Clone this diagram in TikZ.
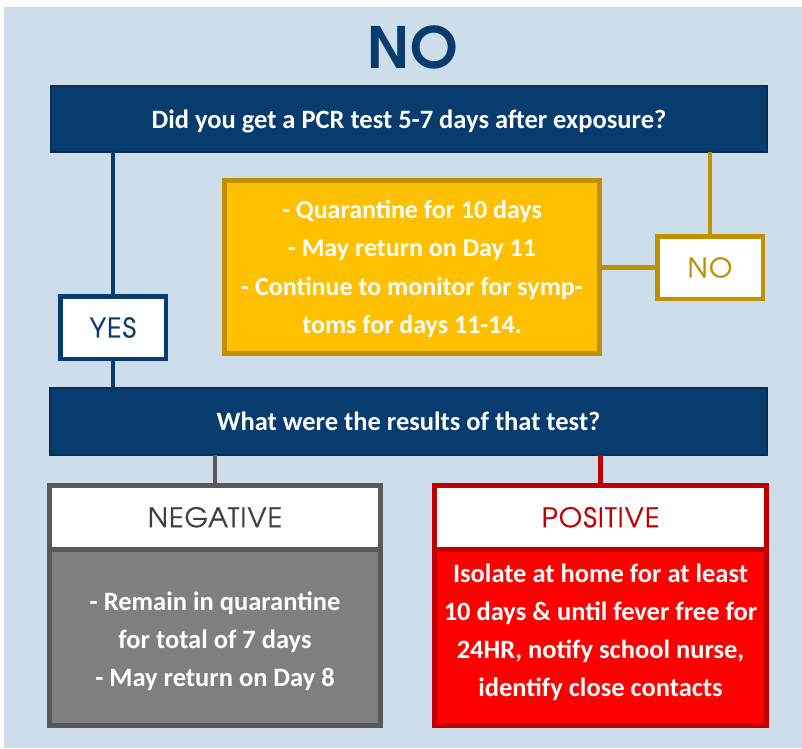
\documentclass[tikz,border=0pt]{standalone}
\usepackage{fontspec}
\setmainfont{Carlito}
\newfontfamily\geofont[LetterSpace=4, FakeBold=0.6]{TeX Gyre Adventor}
\newfontfamily\titlefont{TeX Gyre Adventor}
\usetikzlibrary{positioning}
\definecolor{bgblue}{HTML}{CEDDEA}
\definecolor{navy}{HTML}{083B6E}
\definecolor{navydark}{HTML}{052F5A}
\definecolor{gold}{HTML}{BF9000}
\definecolor{amber}{HTML}{FFC000}
\definecolor{midgray}{HTML}{7F7F7F}
\definecolor{darkgray}{HTML}{595959}
\definecolor{textgray}{HTML}{404040}
\definecolor{alertred}{HTML}{FF0000}
\definecolor{darkred}{HTML}{C00000}

\begin{document}
\begin{tikzpicture}[x=1pt, y=-1pt, line join=miter,
  every node/.style={outer sep=0pt, inner sep=0pt, align=center},
  question/.style={fill=navy, draw=navydark, line width=2pt, text=white,
    font=\bfseries\fontsize{26.5}{30}\selectfont,
    text height=22pt, text depth=3pt,
    minimum width=716pt, minimum height=66pt},
  answer/.style={fill=white, line width=4.5pt,
    font=\geofont\fontsize{27}{30}\selectfont,
    minimum width=105.5pt, minimum height=62.5pt},
  header/.style={fill=white, line width=5pt,
    font=\geofont\fontsize{27}{30}\selectfont,
    minimum width=331pt, minimum height=63.5pt},
  body/.style={line width=5pt, minimum width=331pt, minimum height=176.5pt},
  bodytext/.style={text=white, font=\bfseries\fontsize{26.5}{38}\selectfont},
  link/.style={line width=4.5pt}]

  % page and backdrop
  \fill[white] (0,0) rectangle (802,748);
  \fill[bgblue] (4,7) rectangle (802,748);

  % title
  \node[text=navy, font=\titlefont\bfseries\fontsize{57}{60}\selectfont] (title) at (413,47) {NO};

  % the two questions
  \node[question] (q1) at (409,119) {Did you get a PCR test 5-7 days after exposure?};
  \node[question, minimum width=717pt, minimum height=67pt, text height=21pt] (q2) at (408.5,421.5) {What were the results of that test?};

  % yes / no answers
  \node[answer, draw=navy, text=navy] (yes) at (113,327.5) {YES};
  \node[answer, draw=gold, text=gold] (no) at (710,267.5) {NO};

  % quarantine box for the NO branch
  \node[fill=amber, draw=gold, line width=5pt, minimum width=375pt, minimum height=173pt] (todo) at (412,267) {};
  \node[bodytext, font=\bfseries\fontsize{26}{38.5}\selectfont] (todotext) at ([yshift=-2pt]todo.center)
    {- Quarantine for 10 days\\- May return on Day 11\\- Continue to monitor for symp-\\toms for days 11-14.};

  % results
  \node[header, draw=darkgray, text=textgray] (neghead) at (215,517.25) {NEGATIVE};
  \node[body, fill=midgray, draw=darkgray, below=0pt of neghead] (negbody) {};
  \node[bodytext] (negtext) at ([yshift=-4pt]negbody.center)
    {- Remain in quarantine\\for total of 7 days\\- May return on Day 8};
  \node[header, draw=darkred, text=darkred, minimum width=332pt] (poshead) at (600.5,517.25) {POSITIVE};
  \node[body, fill=alertred, draw=darkred, minimum width=332pt, below=0pt of poshead] (posbody) {};
  \node[bodytext] (postext) at ([yshift=5pt]posbody.center)
    {Isolate at home for at least\\10 days \& until fever free for\\24HR, notify school nurse,\\identify close contacts};

  % connectors
  \draw[link, navy] (yes.north) -- (yes.north |- q1.south);
  \draw[link, navy] (yes.south) -- (yes.south |- q2.north);
  \draw[link, gold] (no.north) -- (no.north |- q1.south);
  \draw[link, gold] (no.west) -- (no.west -| todo.east);
  \draw[link, darkgray] (neghead.north) -- (neghead.north |- q2.south);
  \draw[link, darkred] (poshead.north) -- (poshead.north |- q2.south);
\end{tikzpicture}
\end{document}
